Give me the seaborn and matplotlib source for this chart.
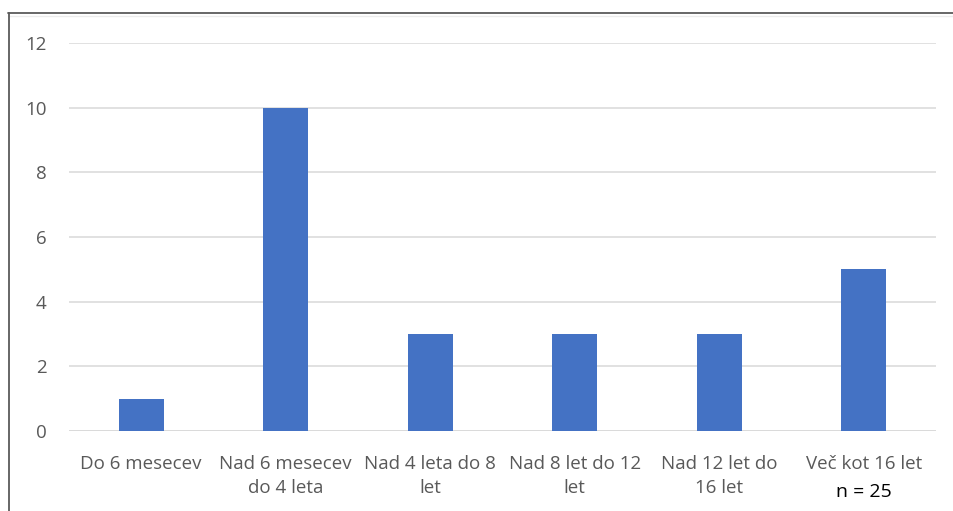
import matplotlib
matplotlib.use("Agg")
import matplotlib.pyplot as plt
from matplotlib.lines import Line2D
import seaborn as sns
import pandas as pd

categories = [
    "Do 6 mesecev",
    "Nad 6 mesecev\ndo 4 leta",
    "Nad 4 leta do 8\nlet",
    "Nad 8 let do 12\nlet",
    "Nad 12 let do\n16 let",
    "Več kot 16 let",
]
counts = [1, 10, 3, 3, 3, 5]
y_ticks = [0, 2, 4, 6, 8, 10, 12]
note = "n = 25"

sns.set_theme(style="white")
plt.rcParams["font.family"] = ["Open Sans", "DejaVu Sans"]

df = pd.DataFrame({"kategorija": categories, "stevilo": counts})

fig = plt.figure(figsize=(9.54, 5.11), dpi=100)
ax = fig.add_axes([69 / 954, 80 / 511, 867 / 954, 388 / 511])

sns.barplot(data=df, x="kategorija", y="stevilo", color="#4472C4",
            saturation=1, width=0.31, ax=ax, zorder=3, linewidth=0)

ax.set_xlim(-0.5, len(categories) - 0.5)
ax.set_ylim(0, 12)
ax.set_yticks(y_ticks)
ax.set_yticklabels([str(t) for t in y_ticks])
ax.yaxis.grid(True, color="#d9d9d9", linewidth=1.1, zorder=0)
ax.set_axisbelow(True)
for s in ax.spines.values():
    s.set_visible(False)
ax.axhline(0, color="#d9d9d9", linewidth=1.1, zorder=2)
ax.set_xlabel("")
ax.set_ylabel("")
ax.tick_params(axis="both", length=0, labelsize=13.5, labelcolor="#595959")
ax.tick_params(axis="y", pad=16)
ax.tick_params(axis="x", pad=17)
for lbl in ax.get_xticklabels():
    lbl.set_linespacing(1.45)

fig.text(864 / 954, 1 - 492 / 511, note, ha="center", va="center",
         fontsize=14, color="black")

# outer frame (top and left edges)
fig.add_artist(Line2D([8 / 954, 1], [1 - 13 / 511] * 2, color="#5a5a5a", lw=1.3))
fig.add_artist(Line2D([8 / 954, 1], [1 - 16 / 511] * 2, color="#ececec", lw=1.0))
fig.add_artist(Line2D([9 / 954] * 2, [0, 1 - 13 / 511], color="#5a5a5a", lw=1.3))

fig.savefig("out.png", dpi=100, facecolor="white")
